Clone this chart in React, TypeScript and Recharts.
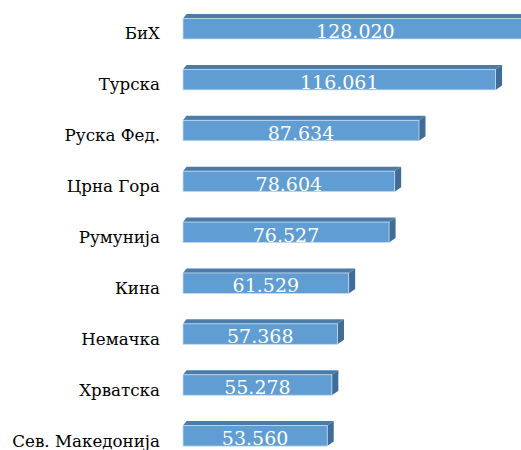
import { Bar, BarChart, LabelList, XAxis, YAxis } from "recharts";

const countries = [
  "БиХ",
  "Турска",
  "Руска Фед.",
  "Црна Гора",
  "Румунија",
  "Кина",
  "Немачка",
  "Хрватска",
  "Сев. Македонија",
];
const values = [128.02, 116.061, 87.634, 78.604, 76.527, 61.529, 57.368, 55.278, 53.56];
const valueLabels = ["128.020", "116.061", "87.634", "78.604", "76.527", "61.529", "57.368", "55.278", "53.560"];

const data = countries.map((name, i) => ({ name, value: values[i], label: valueLabels[i] }));

const FRONT = "#5f9dd3";
const TOP = "#4b7ba8";
const SIDE = "#3f6d98";
const DX = 6.5;
const DY = 4.5;
const SERIF = "'DejaVu Serif', 'Liberation Serif', serif";

function Bar3D(props: any) {
  const { x, y, width, height } = props;
  const fy = y + DY;
  const fh = height - DY;
  return (
    <g>
      <polygon
        points={`${x},${fy} ${x + 3.5},${y} ${x + width + DX},${y} ${x + width},${fy}`}
        fill={TOP}
      />
      <polygon
        points={`${x + width},${fy} ${x + width + DX},${y} ${x + width + DX},${y + height - DY} ${x + width},${y + height}`}
        fill={SIDE}
      />
      <rect x={x} y={fy} width={width} height={fh} fill={FRONT} stroke="#c6dbef" strokeWidth={0.8} />
    </g>
  );
}

function ValueLabel(props: any) {
  const { x, y, width, height, value } = props;
  return (
    <text
      x={x + width / 2}
      y={y + height - 1}
      textAnchor="middle"
      fill="#ffffff"
      style={{ fontFamily: SERIF, fontSize: 19 }}
    >
      {value}
    </text>
  );
}

function CountryTick(props: any) {
  const { x, y, payload } = props;
  return (
    <text x={x} y={y + 13} textAnchor="end" fill="#000000" style={{ fontFamily: SERIF, fontSize: 16.7 }}>
      {payload.value}
    </text>
  );
}

export default function App() {
  return (
    <div
      style={{
        position: "absolute",
        left: 0,
        top: 0,
        width: 521,
        height: 450,
        overflow: "hidden",
        background: "#fff",
      }}
    >
      <BarChart
        width={560}
        height={460}
        data={data}
        layout="vertical"
        margin={{ top: 1, right: 0, bottom: 1, left: 0 }}
      >
        <XAxis type="number" domain={[0, 140]} hide />
        <YAxis
          type="category"
          dataKey="name"
          width={183}
          axisLine={false}
          tickLine={false}
          tickSize={0}
          tickMargin={23}
          tick={<CountryTick />}
          interval={0}
        />
        <Bar dataKey="value" barSize={25} shape={<Bar3D />} isAnimationActive={false}>
          <LabelList dataKey="label" content={<ValueLabel />} />
        </Bar>
      </BarChart>
    </div>
  );
}
